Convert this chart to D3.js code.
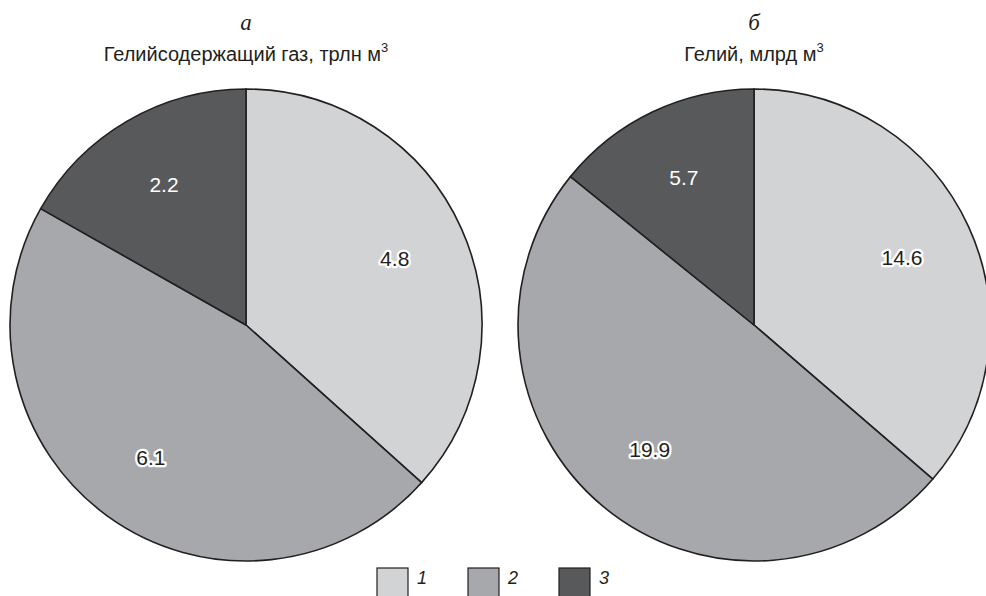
<!DOCTYPE html>
<html lang="ru">
<head>
<meta charset="UTF-8">
<script src="https://cdn.jsdelivr.net/npm/d3@7/dist/d3.min.js"></script>
<style>
  body { margin: 0; background: #fff; }
  svg { display: block; }
</style>
</head>
<body>
<svg id="mainsvg" width="986" height="596"></svg>
<script>
// data
const categories = ['1', '2', '3']
const letters = ['а', 'б']
const titles = ['Гелийсодержащий газ, трлн м', 'Гелий, млрд м']
const gasValues = [4.8, 6.1, 2.2]
const heliumValues = [14.6, 19.9, 5.7]
const seriesValues = [gasValues, heliumValues]

const colors = ['#d2d3d5', '#a7a8ac', '#58595b']
const labelFill = ['#231f20', '#231f20', '#ffffff']

const svg = d3.select('#mainsvg')
const radius = 236
const centers = [246, 754]
const cy = 325

const color = d3.scaleOrdinal().domain(categories).range(colors)
const pie = d3.pie().sort(null).value(d => d.value)
const arc = d3.arc().innerRadius(0).outerRadius(radius)
const labelArc = d3.arc().innerRadius(radius * 0.69).outerRadius(radius * 0.69)

seriesValues.forEach((vals, i) => {
    const data = vals.map((v, j) => ({ cat: categories[j], value: v }))
    const g = svg.append('g').attr('transform', `translate(${centers[i]},${cy})`)

    g.selectAll('path.slice')
        .data(pie(data))
        .join('path')
        .attr('class', 'slice')
        .attr('d', arc)
        .attr('fill', d => color(d.data.cat))
        .attr('stroke', '#231f20')
        .attr('stroke-width', 1.6)
        .attr('stroke-linejoin', 'round')

    g.selectAll('text.val')
        .data(pie(data))
        .join('text')
        .attr('class', 'val')
        .attr('transform', d => `translate(${labelArc.centroid(d)})`)
        .attr('text-anchor', 'middle')
        .attr('dy', '0.35em')
        .attr('font-family', 'Liberation Sans, Arial, sans-serif')
        .attr('font-size', 21)
        .attr('fill', (d, j) => labelFill[j])
        .attr('stroke', (d, j) => j === 2 ? 'none' : '#fff')
        .attr('stroke-width', 4.5)
        .attr('stroke-linejoin', 'round')
        .attr('paint-order', 'stroke')
        .text(d => d.data.value)

    // headings
    svg.append('text')
        .attr('x', centers[i]).attr('y', 30)
        .attr('text-anchor', 'middle')
        .attr('font-family', 'Liberation Serif, Times New Roman, serif')
        .attr('font-style', 'italic')
        .attr('font-size', 23)
        .attr('fill', '#231f20')
        .text(letters[i])

    const t = svg.append('text')
        .attr('x', centers[i]).attr('y', 61)
        .attr('text-anchor', 'middle')
        .attr('font-family', 'Liberation Sans, Arial, sans-serif')
        .attr('font-size', 20)
        .attr('fill', '#231f20')
    t.append('tspan').text(titles[i])
    t.append('tspan').attr('dy', -9).attr('font-size', 13).text('3')
})

// legend
const legendX = d3.scalePoint().domain(categories).range([377, 559])
const lg = svg.append('g')
categories.forEach(c => {
    lg.append('rect')
        .attr('x', legendX(c)).attr('y', 568)
        .attr('width', 31).attr('height', 30)
        .attr('fill', color(c))
        .attr('stroke', '#231f20')
        .attr('stroke-width', 1.2)
    lg.append('text')
        .attr('x', legendX(c) + 40).attr('y', 584)
        .attr('font-family', 'Liberation Sans, Arial, sans-serif')
        .attr('font-style', 'italic')
        .attr('font-size', 18)
        .attr('fill', '#231f20')
        .text(c)
})
</script>
</body>
</html>
